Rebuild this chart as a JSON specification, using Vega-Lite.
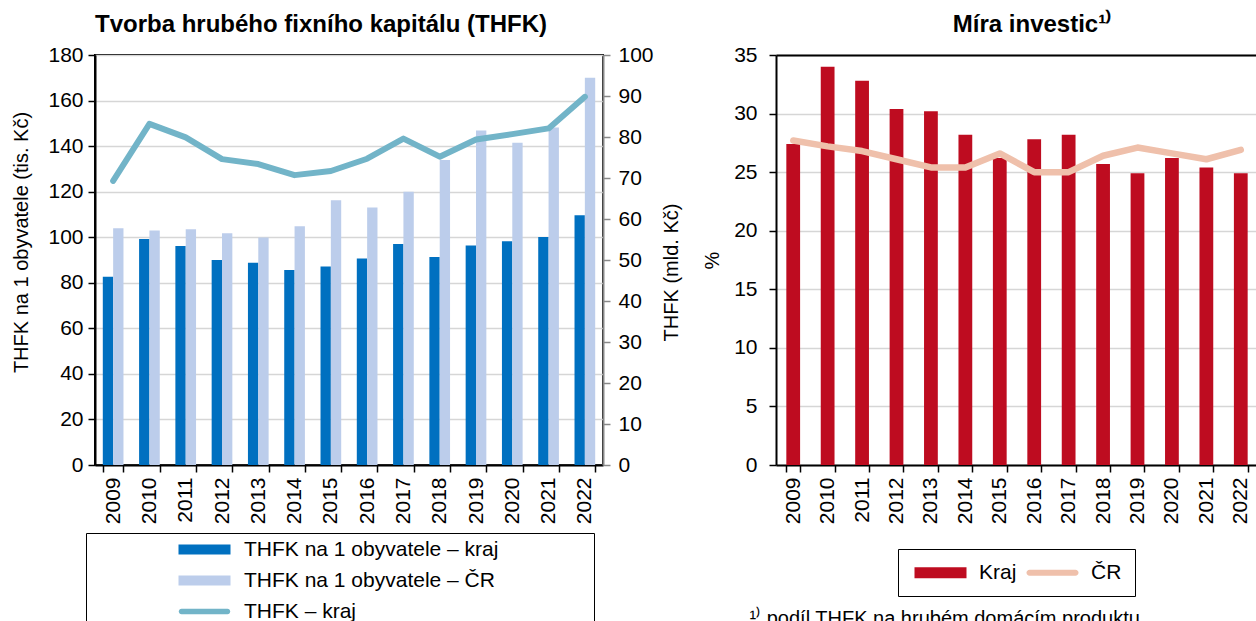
{
  "$schema": "https://vega.github.io/schema/vega-lite/v6.json",
  "padding": {"left": 10, "top": 12, "right": 0, "bottom": 0},
  "background": "white",
  "spacing": 19,
  "resolve": {"scale": {"color": "independent"}, "legend": {"color": "independent"}},
  "config": {
    "font": "Liberation Sans",
    "view": {"stroke": "black", "strokeWidth": 2},
    "title": {"font": "Liberation Sans", "fontSize": 24, "fontWeight": "bold", "color": "black"},
    "axis": {
      "labelFont": "Liberation Sans", "labelFontSize": 21, "labelColor": "black",
      "titleFont": "Liberation Sans", "titleFontSize": 20, "titleFontWeight": "normal", "titleColor": "black",
      "domainColor": "black", "domainWidth": 2, "tickColor": "black", "tickWidth": 1.5, "tickSize": 7,
      "gridColor": "#d6d6d6", "gridWidth": 1.5, "labelPadding": 5
    },
    "legend": {
      "labelFont": "Liberation Sans", "labelFontSize": 21, "labelColor": "black", "labelLimit": 400
    }
  },
  "datasets": {
    "perCapita": [
      {"year": "2009", "series": "THFK na 1 obyvatele – kraj", "value": 82.7},
      {"year": "2010", "series": "THFK na 1 obyvatele – kraj", "value": 99.2},
      {"year": "2011", "series": "THFK na 1 obyvatele – kraj", "value": 96.1},
      {"year": "2012", "series": "THFK na 1 obyvatele – kraj", "value": 90.0},
      {"year": "2013", "series": "THFK na 1 obyvatele – kraj", "value": 88.8},
      {"year": "2014", "series": "THFK na 1 obyvatele – kraj", "value": 85.6},
      {"year": "2015", "series": "THFK na 1 obyvatele – kraj", "value": 87.1},
      {"year": "2016", "series": "THFK na 1 obyvatele – kraj", "value": 90.7},
      {"year": "2017", "series": "THFK na 1 obyvatele – kraj", "value": 97.0},
      {"year": "2018", "series": "THFK na 1 obyvatele – kraj", "value": 91.3},
      {"year": "2019", "series": "THFK na 1 obyvatele – kraj", "value": 96.4},
      {"year": "2020", "series": "THFK na 1 obyvatele – kraj", "value": 98.2},
      {"year": "2021", "series": "THFK na 1 obyvatele – kraj", "value": 100.1},
      {"year": "2022", "series": "THFK na 1 obyvatele – kraj", "value": 109.6},
      {"year": "2009", "series": "THFK na 1 obyvatele – ČR", "value": 103.9},
      {"year": "2010", "series": "THFK na 1 obyvatele – ČR", "value": 103.0},
      {"year": "2011", "series": "THFK na 1 obyvatele – ČR", "value": 103.5},
      {"year": "2012", "series": "THFK na 1 obyvatele – ČR", "value": 101.7},
      {"year": "2013", "series": "THFK na 1 obyvatele – ČR", "value": 99.9},
      {"year": "2014", "series": "THFK na 1 obyvatele – ČR", "value": 104.8},
      {"year": "2015", "series": "THFK na 1 obyvatele – ČR", "value": 116.2},
      {"year": "2016", "series": "THFK na 1 obyvatele – ČR", "value": 113.1},
      {"year": "2017", "series": "THFK na 1 obyvatele – ČR", "value": 120.0},
      {"year": "2018", "series": "THFK na 1 obyvatele – ČR", "value": 133.9},
      {"year": "2019", "series": "THFK na 1 obyvatele – ČR", "value": 146.8},
      {"year": "2020", "series": "THFK na 1 obyvatele – ČR", "value": 141.5},
      {"year": "2021", "series": "THFK na 1 obyvatele – ČR", "value": 148.2},
      {"year": "2022", "series": "THFK na 1 obyvatele – ČR", "value": 170.0}
    ],
    "total": [
      {"year": "2009", "series": "THFK – kraj", "value": 69.3},
      {"year": "2010", "series": "THFK – kraj", "value": 83.2},
      {"year": "2011", "series": "THFK – kraj", "value": 79.9},
      {"year": "2012", "series": "THFK – kraj", "value": 74.6},
      {"year": "2013", "series": "THFK – kraj", "value": 73.4},
      {"year": "2014", "series": "THFK – kraj", "value": 70.7},
      {"year": "2015", "series": "THFK – kraj", "value": 71.7},
      {"year": "2016", "series": "THFK – kraj", "value": 74.7},
      {"year": "2017", "series": "THFK – kraj", "value": 79.6},
      {"year": "2018", "series": "THFK – kraj", "value": 75.2},
      {"year": "2019", "series": "THFK – kraj", "value": 79.4},
      {"year": "2020", "series": "THFK – kraj", "value": 80.7},
      {"year": "2021", "series": "THFK – kraj", "value": 82.1},
      {"year": "2022", "series": "THFK – kraj", "value": 89.8}
    ],
    "rate": [
      {"year": "2009", "series": "Kraj", "value": 27.4},
      {"year": "2010", "series": "Kraj", "value": 34.0},
      {"year": "2011", "series": "Kraj", "value": 32.8},
      {"year": "2012", "series": "Kraj", "value": 30.4},
      {"year": "2013", "series": "Kraj", "value": 30.2},
      {"year": "2014", "series": "Kraj", "value": 28.2},
      {"year": "2015", "series": "Kraj", "value": 26.2},
      {"year": "2016", "series": "Kraj", "value": 27.8},
      {"year": "2017", "series": "Kraj", "value": 28.2},
      {"year": "2018", "series": "Kraj", "value": 25.7},
      {"year": "2019", "series": "Kraj", "value": 24.9},
      {"year": "2020", "series": "Kraj", "value": 26.2},
      {"year": "2021", "series": "Kraj", "value": 25.4},
      {"year": "2022", "series": "Kraj", "value": 24.9},
      {"year": "2009", "series": "ČR", "value": 27.7},
      {"year": "2010", "series": "ČR", "value": 27.2},
      {"year": "2011", "series": "ČR", "value": 26.8},
      {"year": "2012", "series": "ČR", "value": 26.1},
      {"year": "2013", "series": "ČR", "value": 25.4},
      {"year": "2014", "series": "ČR", "value": 25.4},
      {"year": "2015", "series": "ČR", "value": 26.6},
      {"year": "2016", "series": "ČR", "value": 25.0},
      {"year": "2017", "series": "ČR", "value": 25.0},
      {"year": "2018", "series": "ČR", "value": 26.4},
      {"year": "2019", "series": "ČR", "value": 27.1},
      {"year": "2020", "series": "ČR", "value": 26.6},
      {"year": "2021", "series": "ČR", "value": 26.1},
      {"year": "2022", "series": "ČR", "value": 26.9}
    ]
  },
  "hconcat": [
    {
      "width": 508,
      "height": 410,
      "title": {"text": "Tvorba hrubého fixního kapitálu (THFK)", "anchor": "start", "frame": "group", "offset": 7},
      "layer": [
        {
          "data": {"name": "perCapita"},
          "mark": {"type": "bar"},
          "encoding": {
            "x": {"field": "year", "type": "nominal", "scale": {"paddingInner": 0.43, "paddingOuter": 0.215},
                  "axis": {"title": null, "labelAngle": -90, "tickBand": "extent", "grid": false}},
            "xOffset": {"field": "series", "type": "nominal", "sort": ["THFK na 1 obyvatele – kraj", "THFK na 1 obyvatele – ČR"], "scale": {"paddingInner": 0}},
            "y": {"field": "value", "type": "quantitative", "scale": {"domain": [0, 180]},
                  "axis": {"title": "THFK na 1 obyvatele (tis. Kč)", "values": [0,20,40,60,80,100,120,140,160,180], "grid": true, "titlePadding": 16, "titleY": 187}},
            "color": {"field": "series", "type": "nominal",
                      "scale": {"domain": ["THFK na 1 obyvatele – kraj", "THFK na 1 obyvatele – ČR", "THFK – kraj"], "range": ["#0070c0", "#bccdeb", "#72b4c8"]},
                      "legend": {
                        "orient": "none", "legendX": -9, "legendY": 478, "direction": "vertical",
                        "title": "\u00a0", "titleOrient": "right", "titlePadding": 90, "titleFontSize": 21,
                        "strokeColor": "black", "padding": 6, "symbolOffset": 102, "labelOffset": 29, "rowPadding": 9,
                        "symbolType": "M-2.6,-0.5H2.6V0.5H-2.6Z", "symbolSize": 400, "symbolStrokeWidth": 0,
                        "encode": {"symbols": {"update": {
                          "shape": {"signal": "datum.value === 'THFK – kraj' ? 'M-2.3,-0.27H2.3A0.27,0.27 0 0 1 2.3,0.27H-2.3A0.27,0.27 0 0 1 -2.3,-0.27Z' : 'M-2.6,-0.5H2.6V0.5H-2.6Z'"},
                          "fill": {"signal": "datum.value === 'THFK – kraj' ? '#72b4c8' : (datum.value === 'THFK na 1 obyvatele – ČR' ? '#bccdeb' : '#0070c0')"},
                          "stroke": {"value": "transparent"},
                          "strokeWidth": {"value": 0},
                          "opacity": {"value": 1}
                        }}}
                      }}
          }
        },
        {
          "data": {"name": "total"},
          "mark": {"type": "line", "strokeWidth": 6, "strokeCap": "round", "strokeJoin": "round"},
          "encoding": {
            "x": {"field": "year", "type": "nominal"},
            "y": {"field": "value", "type": "quantitative", "scale": {"domain": [0, 100]},
                  "axis": {"orient": "right", "title": "THFK (mld. Kč)", "values": [0,10,20,30,40,50,60,70,80,90,100], "grid": false,
                           "domainColor": "#898989", "tickColor": "#898989", "labelPadding": 8, "titlePadding": 8,
                           "titleAngle": 270, "titleBaseline": "top", "titleY": 217}},
            "color": {"field": "series", "type": "nominal"}
          }
        }
      ],
      "resolve": {"scale": {"y": "independent"}}
    },
    {
      "width": 482,
      "height": 410,
      "view": {"stroke": null},
      "title": {"text": "Míra investic¹⁾", "anchor": "middle", "frame": "group", "offset": 7, "dx": 15},
      "data": {"name": "rate"},
      "layer": [
        {
          "transform": [{"filter": "datum.series === 'Kraj'"}],
          "mark": {"type": "bar"},
          "encoding": {
            "x": {"field": "year", "type": "nominal", "scale": {"paddingInner": 0.6, "paddingOuter": 0.3},
                  "axis": {"orient": "bottom", "title": "¹⁾ podíl THFK na hrubém domácím produktu", "labelAngle": -90, "tickBand": "extent", "grid": false,
                           "titleAnchor": "start", "titleAlign": "left", "titleX": -27, "titleY": 159, "titleBaseline": "alphabetic", "titleFontSize": 20}},
            "y": {"field": "value", "type": "quantitative", "scale": {"domain": [0, 35]},
                  "axis": {"title": "%", "values": [0,5,10,15,20,25,30,35], "grid": true, "labelPadding": 12, "titlePadding": 11}},
            "color": {"field": "series", "type": "nominal",
                      "scale": {"domain": ["Kraj", "ČR"], "range": ["#be0c20", "#efc0ab"]},
                      "legend": {
                        "orient": "none", "legendX": 122, "legendY": 494, "direction": "horizontal",
                        "title": null, "strokeColor": "black", "padding": 13, "symbolOffset": 19, "labelOffset": 28, "columnPadding": 6,
                        "symbolType": "M-2.6,-0.5H2.6V0.5H-2.6Z", "symbolSize": 400, "symbolStrokeWidth": 0,
                        "encode": {"symbols": {"update": {
                          "shape": {"signal": "datum.value === 'ČR' ? 'M-2.3,-0.3H2.3A0.3,0.3 0 0 1 2.3,0.3H-2.3A0.3,0.3 0 0 1 -2.3,-0.3Z' : 'M-2.6,-0.55H2.6V0.55H-2.6Z'"},
                          "fill": {"signal": "datum.value === 'ČR' ? '#efc0ab' : '#be0c20'"},
                          "stroke": {"value": "transparent"},
                          "strokeWidth": {"value": 0},
                          "opacity": {"value": 1}
                        }}}
                      }}
          }
        },
        {
          "transform": [{"filter": "datum.series === 'ČR'"}],
          "mark": {"type": "line", "strokeWidth": 6.5, "strokeCap": "round", "strokeJoin": "round"},
          "encoding": {
            "x": {"field": "year", "type": "nominal",
                  "axis": {"orient": "top", "labels": false, "ticks": false, "title": null, "grid": false, "domainColor": "black", "domainWidth": 2}},
            "y": {"field": "value", "type": "quantitative"},
            "color": {"field": "series", "type": "nominal"}
          }
        }
      ]
    }
  ]
}
